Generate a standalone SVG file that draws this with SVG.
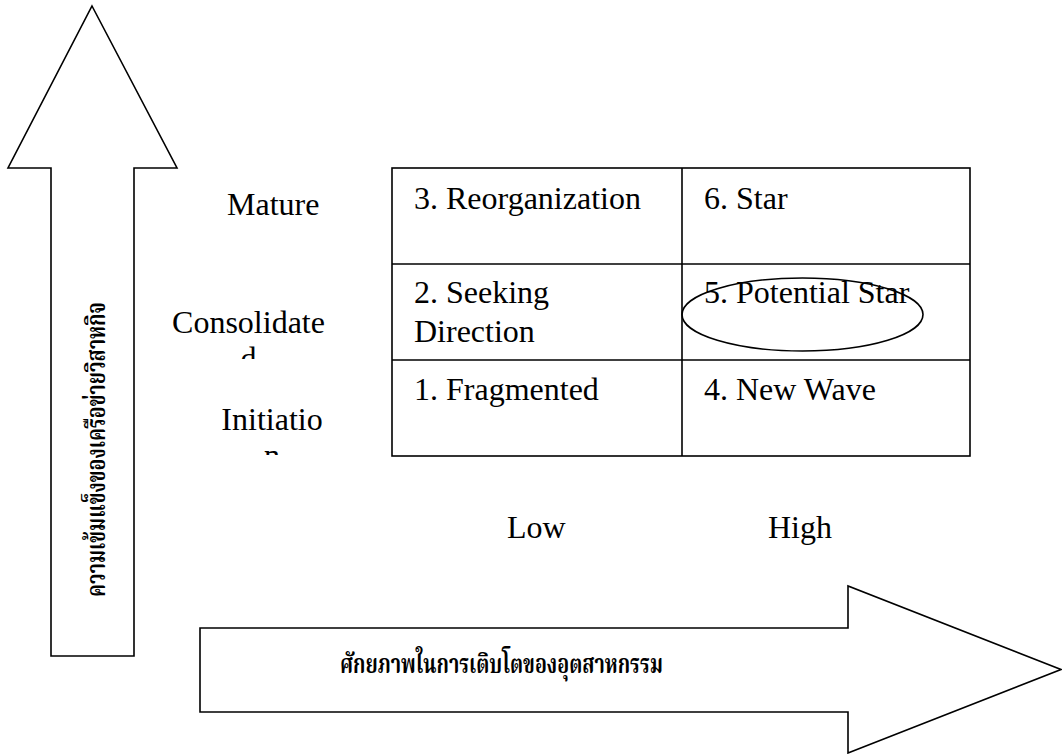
<svg xmlns="http://www.w3.org/2000/svg" width="1062" height="754" viewBox="0 0 1062 754">
  <style>
    .shape { fill: #ffffff; stroke: #000000; stroke-width: 1.6; stroke-linejoin: miter; }
    .grid { fill: none; stroke: #000000; stroke-width: 1.6; }
    .lbl { font-family: "Liberation Serif", "Times New Roman", serif; font-size: 32px; fill: #000000; }
    .thai { font-family: "Noto Serif Thai", "Noto Sans Thai", "Liberation Serif", serif; font-weight: bold; font-size: 26px; fill: #000000; }
  </style>
  <defs>
    <clipPath id="clipD"><rect x="150" y="300" width="200" height="59"/></clipPath>
    <clipPath id="clipN"><rect x="150" y="400" width="200" height="55"/></clipPath>
  </defs>
  <rect x="0" y="0" width="1062" height="754" fill="#ffffff"/>

  <g id="arrow-vertical">
    <path class="shape" d="M92,6 L177,168 L134,168 L134,656 L51,656 L51,168 L8,168 Z"/>
    <text class="thai" transform="translate(105,597) rotate(-90)" textLength="295" lengthAdjust="spacingAndGlyphs">ความเข้มแข็งของเครือข่ายวิสาหกิจ</text>
  </g>

  <g id="arrow-horizontal">
    <path class="shape" d="M200,628 L848,628 L848,586 L1061,669.5 L848,753 L848,712 L200,712 Z"/>
    <text class="thai" x="340" y="673" textLength="323" lengthAdjust="spacingAndGlyphs">ศักยภาพในการเติบโตของอุตสาหกรรม</text>
  </g>

  <g id="row-labels">
    <text class="lbl" x="227" y="215">Mature</text>
    <g clip-path="url(#clipD)">
      <text class="lbl" x="248.5" y="333" text-anchor="middle">Consolidate</text>
      <text class="lbl" x="248.5" y="369" text-anchor="middle">d</text>
    </g>
    <g clip-path="url(#clipN)">
      <text class="lbl" x="272" y="430" text-anchor="middle">Initiatio</text>
      <text class="lbl" x="272" y="466" text-anchor="middle">n</text>
    </g>
  </g>

  <g id="col-labels">
    <text class="lbl" x="507" y="538">Low</text>
    <text class="lbl" x="768" y="538">High</text>
  </g>

  <g id="matrix">
    <rect class="grid" x="392" y="168" width="578" height="288"/>
    <line class="grid" x1="682" y1="168" x2="682" y2="456"/>
    <line class="grid" x1="392" y1="264" x2="970" y2="264"/>
    <line class="grid" x1="392" y1="360" x2="970" y2="360"/>
  </g>

  <g id="cell-3"><text class="lbl" x="414" y="209">3. Reorganization</text></g>
  <g id="cell-6"><text class="lbl" x="704" y="209">6. Star</text></g>
  <g id="cell-2">
    <text class="lbl" x="414" y="303">2. Seeking</text>
    <text class="lbl" x="414" y="342">Direction</text>
  </g>
  <g id="cell-5">
    <text class="lbl" x="704" y="303">5. Potential Star</text>
    <ellipse cx="802.5" cy="314.5" rx="120.5" ry="36.5" fill="none" stroke="#000000" stroke-width="1.6"/>
  </g>
  <g id="cell-1"><text class="lbl" x="414" y="400">1. Fragmented</text></g>
  <g id="cell-4"><text class="lbl" x="704" y="400">4. New Wave</text></g>
</svg>
